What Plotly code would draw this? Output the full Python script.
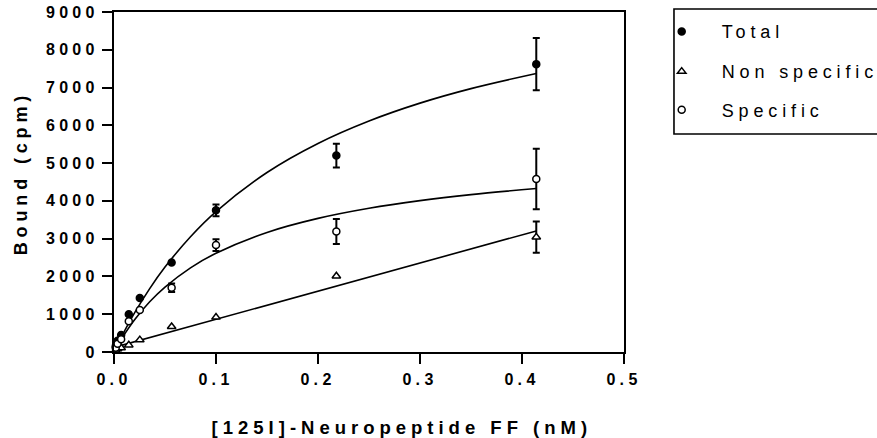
import plotly.graph_objects as go
import numpy as np

# ---- data ----
conc = [0.0017, 0.0035, 0.007, 0.0145, 0.0253, 0.0565, 0.1, 0.218, 0.414]
total = [150, 300, 450, 1000, 1430, 2370, 3750, 5200, 7620]
total_err = [0, 0, 0, 0, 0, 0, 155, 315, 690]
nonspecific = [40, 80, 110, 185, 320, 670, 920, 2010, 3040]
nonspecific_err = [0, 0, 0, 0, 0, 0, 0, 0, 415]
specific = [110, 220, 340, 815, 1110, 1700, 2830, 3190, 4580]
specific_err = [0, 0, 0, 0, 0, 110, 155, 330, 800]

fit_x = [0, 0.005, 0.01, 0.02, 0.035, 0.05, 0.075, 0.1, 0.15, 0.2, 0.25, 0.3, 0.35, 0.414]
fit_total = [0, 277, 540, 1028, 1679, 2248, 3052, 3717, 4752, 5521, 6115, 6588, 6972, 7372]
fit_specific = [0, 240, 459, 848, 1329, 1719, 2228, 2615, 3165, 3537, 3805, 4008, 4167, 4326]
fit_nonspecific = [121, 158, 195, 270, 382, 493, 680, 866, 1238, 1611, 1983, 2356, 2728, 3205]

x_ticks = [0, 0.1, 0.2, 0.3, 0.4, 0.5]
x_tick_labels = ["0.0", "0.1", "0.2", "0.3", "0.4", "0.5"]
y_ticks = [0, 1000, 2000, 3000, 4000, 5000, 6000, 7000, 8000, 9000]
y_tick_labels = ["0", "1000", "2000", "3000", "4000", "5000", "6000", "7000", "8000", "9000"]

x_title = "[125I]-Neuropeptide FF (nM)"
y_title = "Bound (cpm)"

FONT = "Liberation Sans, Arial, sans-serif"

fig = go.Figure()

# fitted curves
for fy, shape in [(fit_total, "spline"), (fit_specific, "spline"), (fit_nonspecific, "linear")]:
    fig.add_trace(go.Scatter(x=fit_x, y=fy, mode="lines",
                             line=dict(color="black", width=1.6, shape=shape),
                             showlegend=False, hoverinfo="skip"))

series = [
    ("Total", total, total_err, "circle", "black", "legend"),
    ("Non specific", nonspecific, nonspecific_err, "triangle-up", "white", "legend2"),
    ("Specific", specific, specific_err, "circle", "white", "legend3"),
]

cx = np.array(conc)
for name, vals, err, sym, fill, leg in series:
    v = np.array(vals)
    e = np.array(err)
    m = e > 0
    # error bars (only points that have them)
    fig.add_trace(go.Scatter(x=cx[m], y=v[m], mode="markers",
                             marker=dict(size=1, color="rgba(0,0,0,0)"),
                             error_y=dict(type="data", array=e[m], visible=True,
                                          color="black", thickness=2, width=3.5),
                             cliponaxis=False, showlegend=False, hoverinfo="skip"))
    # markers
    fig.add_trace(go.Scatter(x=cx, y=v, mode="markers", name=name, legend=leg,
                             marker=dict(symbol=sym, size=7 if sym == "circle" else 7.5,
                                         color=fill,
                                         line=dict(color="black", width=1.5)),
                             cliponaxis=False))

legend_common = dict(x=1.0347, xanchor="left", yanchor="middle",
                     bgcolor="rgba(0,0,0,0)", borderwidth=0, itemwidth=70,
                     font=dict(family=FONT, size=18, color="black"))

fig.update_layout(
    width=877, height=438, autosize=False,
    margin=dict(l=114, r=253, t=12, b=86, autoexpand=False),
    paper_bgcolor="white", plot_bgcolor="white",
    font=dict(family=FONT, color="black"),
    legend=dict(y=0.9421, **legend_common),
    legend2=dict(y=0.8244, **legend_common),
    legend3=dict(y=0.7118, **legend_common),
    xaxis=dict(range=[0, 0.5], tickvals=x_ticks, ticktext=x_tick_labels,
               showgrid=False, zeroline=False, showline=True, linecolor="black",
               linewidth=2, mirror=True, ticks="outside", ticklen=10, tickwidth=2,
               tickcolor="black", ticklabelstandoff=2,
               tickfont=dict(family=FONT, size=16, color="black", weight="bold")),
    yaxis=dict(range=[0, 9000], tickvals=y_ticks, ticktext=y_tick_labels,
               showgrid=False, zeroline=False, showline=True, linecolor="black",
               linewidth=2, mirror=True, ticks="outside", ticklen=10, tickwidth=2,
               tickcolor="black",
               tickfont=dict(family=FONT, size=16, color="black", weight="bold")),
    shapes=[dict(type="rect", xref="paper", yref="paper",
                 x0=1.098, x1=1.52, y0=0.6412, y1=1.0088,
                 line=dict(color="black", width=1.6), fillcolor="rgba(0,0,0,0)")],
    annotations=[
        dict(text=x_title, xref="paper", yref="paper", x=0.5647, y=-0.222,
             xanchor="center", yanchor="middle", showarrow=False,
             font=dict(family=FONT, size=18.5, color="black", weight="bold")),
        dict(text=y_title, xref="paper", yref="paper", x=-0.1843, y=0.525,
             xanchor="center", yanchor="middle", textangle=-90, showarrow=False,
             font=dict(family=FONT, size=18, color="black", weight="bold")),
    ],
)

post = ("var s=document.createElement('style');"
        "s.innerHTML='.main-svg text{letter-spacing:0.27em;} body{margin:0;}';"
        "document.head.appendChild(s);"
        "document.querySelectorAll('[clip-path]').forEach(function(e){"
        "var c=e.getAttribute('clip-path')||'';"
        "if(c.indexOf('legend')>=0){e.removeAttribute('clip-path');}});")

fig.write_html("out.html", post_script=post, config={"displayModeBar": False})
